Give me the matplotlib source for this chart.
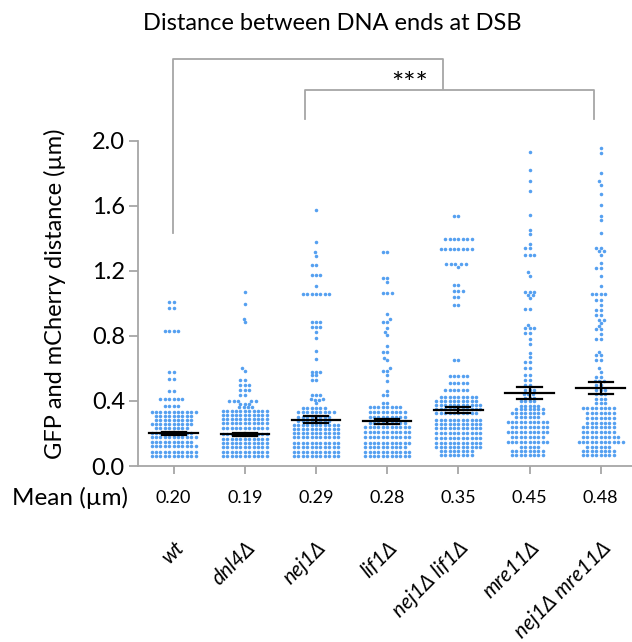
import numpy as np
import matplotlib
matplotlib.use("Agg")
import matplotlib.pyplot as plt

plt.rcParams['font.family'] = ['Lato', 'DejaVu Sans']

strains = ['wt', 'dnl4Δ', 'nej1Δ', 'lif1Δ', 'nej1Δ lif1Δ', 'mre11Δ', 'nej1Δ mre11Δ']
mean_labels = ['0.20', '0.19', '0.29', '0.28', '0.35', '0.45', '0.48']
means = [0.200, 0.195, 0.285, 0.274, 0.347, 0.450, 0.477]
sems = [0.012, 0.009, 0.022, 0.018, 0.018, 0.037, 0.037]

# (distance in um, number of cells)
wt = [(0.06, 11), (0.088, 11), (0.125, 11), (0.15, 10), (0.18, 11), (0.205, 10),
      (0.235, 8), (0.26, 10), (0.285, 9), (0.31, 9), (0.335, 11),
      (0.37, 4), (0.415, 6), (0.46, 2), (0.535, 2), (0.58, 2), (0.83, 4),
      (0.97, 2), (1.01, 2)]
dnl4 = [(0.061, 11), (0.088, 11), (0.115, 11), (0.14, 11), (0.165, 11), (0.195, 11),
        (0.233, 11), (0.262, 11), (0.287, 11), (0.313, 11), (0.34, 11), (0.36, 4),
        (0.38, 3), (0.398, 5), (0.436, 2), (0.467, 3), (0.496, 3), (0.526, 2),
        (0.585, 1), (0.60, 1), (0.885, 1), (0.905, 1), (0.995, 1), (1.07, 1)]
nej1 = [(0.061, 11), (0.088, 11), (0.119, 11), (0.143, 11), (0.176, 11), (0.20, 11),
        (0.225, 11), (0.252, 11), (0.278, 8), (0.303, 8), (0.33, 9),
        (0.355, 6), (0.385, 1), (0.405, 2), (0.413, 2), (0.434, 3), (0.526, 2),
        (0.557, 2), (0.58, 3), (0.661, 1), (0.705, 1), (0.79, 1), (0.821, 1),
        (0.852, 3), (0.885, 3), (1.057, 7), (1.106, 1), (1.173, 3), (1.235, 2),
        (1.294, 1), (1.314, 1), (1.376, 1), (1.572, 1)]
lif1 = [(0.061, 11), (0.088, 11), (0.119, 10), (0.143, 11), (0.18, 11), (0.207, 11),
        (0.241, 11), (0.266, 9), (0.30, 9), (0.333, 9), (0.36, 8),
        (0.385, 2), (0.436, 2), (0.461, 1), (0.524, 1), (0.557, 1), (0.584, 2),
        (0.60, 1), (0.651, 1), (0.663, 1), (0.704, 2), (0.741, 1), (0.805, 1),
        (0.823, 1), (0.846, 1), (0.886, 2), (0.903, 1), (0.932, 1), (1.061, 3),
        (1.132, 1), (1.153, 2), (1.316, 2)]
nej1_lif1 = [(0.067, 8), (0.092, 8), (0.119, 11), (0.143, 11), (0.174, 11), (0.20, 11),
             (0.231, 11), (0.256, 11), (0.283, 11), (0.324, 10), (0.35, 11),
             (0.375, 11), (0.40, 10), (0.426, 9),
             (0.469, 6), (0.51, 5), (0.551, 5), (0.651, 2), (0.991, 2), (1.04, 2),
             (1.075, 3), (1.114, 2), (1.225, 1), (1.24, 5), (1.335, 8), (1.393, 7),
             (1.54, 2)]
mre11 = [(0.067, 8), (0.092, 8), (0.119, 5), (0.149, 10), (0.18, 8), (0.207, 10),
         (0.241, 9), (0.272, 10), (0.30, 6), (0.324, 8), (0.348, 7), (0.372, 5),
         (0.397, 4),
         (0.42, 3), (0.44, 3), (0.47, 3), (0.50, 2), (0.526, 2), (0.557, 2),
         (0.60, 2), (0.641, 2), (0.668, 1), (0.692, 1), (0.749, 1), (0.78, 1),
         (0.815, 2), (0.846, 3), (0.866, 1), (0.964, 2), (1.03, 1), (1.05, 2),
         (1.071, 3), (1.17, 1), (1.19, 1), (1.296, 3), (1.341, 2), (1.364, 1),
         (1.425, 1), (1.454, 1), (1.544, 1), (1.689, 1), (1.753, 1), (1.818, 1),
         (1.931, 1)]
nej1_mre11 = [(0.067, 8), (0.092, 8), (0.119, 6), (0.149, 11), (0.18, 9), (0.207, 8),
              (0.241, 8), (0.266, 7), (0.293, 7), (0.324, 7), (0.354, 8), (0.389, 3),
              (0.415, 3),
              (0.44, 3), (0.47, 3), (0.50, 2), (0.52, 3), (0.55, 2), (0.58, 1),
              (0.60, 1), (0.65, 2), (0.68, 2), (0.70, 1), (0.78, 2), (0.81, 1),
              (0.84, 2), (0.86, 1), (0.88, 1), (0.90, 2), (0.93, 2), (0.96, 2),
              (0.99, 1), (1.02, 2), (1.056, 4), (1.107, 1), (1.17, 1), (1.22, 2),
              (1.25, 1), (1.30, 1), (1.32, 2), (1.34, 2), (1.435, 1), (1.51, 1),
              (1.54, 1), (1.605, 1), (1.67, 1), (1.73, 1), (1.75, 1), (1.80, 1),
              (1.927, 1), (1.955, 1)]

groups = [wt, dnl4, nej1, lif1, nej1_lif1, mre11, nej1_mre11]

dot_color = '#55a0f0'
grey = '#a6a6a6'


def swarm_offsets(vals, xscale, yscale, dx0=4.4, dy0=3.4):
    # beeswarm in pixel space with an elliptic footprint, x offsets in data units
    order = np.argsort(vals, kind='stable')
    placed = []
    offs = np.zeros(len(vals))
    for i in order:
        y = vals[i] * yscale
        near = [(px, py) for px, py in placed if abs(py - y) < dy0]
        cands = [0.0]
        for px, py in near:
            dx = dx0 * np.sqrt(1 - ((py - y) / dy0) ** 2)
            cands += [px - dx, px + dx]
        cands.sort(key=lambda c: (round(abs(c), 6), c))
        for c in cands:
            if all(((c - px) / dx0) ** 2 + ((y - py) / dy0) ** 2 >= 1 - 1e-6
                   for px, py in near):
                break
        placed.append((c, y))
        offs[i] = c / xscale
    return offs


fig = plt.figure(figsize=(6.32, 6.42), dpi=100)
ax = fig.add_axes([0.2184, 0.2741, 0.7816, 0.5067])
ax.set_xlim(-0.5, 6.44)
ax.set_ylim(0, 2.0)

bb = ax.get_window_extent()
xscale = bb.width / (6.44 + 0.5)
yscale = bb.height / 2.0

for i, g in enumerate(groups):
    vals = np.repeat([v for v, n in g], [n for v, n in g])
    offs = swarm_offsets(vals, xscale, yscale)
    ax.scatter(i + offs, vals, s=6.5, color=dot_color, linewidths=0, zorder=2,
               clip_on=False)

for i, (m, e) in enumerate(zip(means, sems)):
    ax.plot([i - 0.34, i + 0.34], [m, m], color='black', lw=1.6, zorder=3)
    ax.plot([i - 0.17, i + 0.17], [m + e, m + e], color='black', lw=1.6, zorder=3)
    ax.plot([i - 0.17, i + 0.17], [m - e, m - e], color='black', lw=1.6, zorder=3)
    ax.plot([i, i], [m - e, m + e], color='black', lw=1.6, zorder=3)

for s in ['top', 'right']:
    ax.spines[s].set_visible(False)
for s in ['left', 'bottom']:
    ax.spines[s].set_color(grey)
    ax.spines[s].set_linewidth(1.3)

ax.set_yticks(np.arange(0, 2.01, 0.4))
ax.set_yticklabels([f'{t:.1f}' for t in np.arange(0, 2.01, 0.4)], fontsize=17)
ax.set_xticks(range(len(strains)))
ax.set_xticklabels([])
ax.tick_params(axis='y', length=6.5, width=1.3, color=grey, pad=3)
ax.tick_params(axis='x', length=6, width=1.3, color=grey)

# mean row
xt = ax.get_xaxis_transform()
for i, lab in enumerate(mean_labels):
    ax.text(i, -0.098, lab, transform=xt, ha='center', va='center', fontsize=13)
fig.text(12 / 632, 1 - 498 / 642, 'Mean (µm)', ha='left', va='center', fontsize=17.5)

# strain names
for i, lab in enumerate(strains):
    ax.text(i + 0.2, -0.22, lab, transform=xt, ha='right', va='top', rotation=45,
            fontsize=15, style='italic')

fig.text(55 / 632, 1 - 294 / 642, 'GFP and mCherry distance (µm)', rotation=90,
         ha='center', va='center', fontsize=17)
fig.text(332 / 632, 1 - 23 / 642, 'Distance between DNA ends at DSB',
         ha='center', va='center', fontsize=17)

# significance brackets
ax.plot([-0.01, -0.01, 3.78, 3.78], [1.433, 2.5, 2.5, 2.32], color=grey, lw=1.3,
        clip_on=False)
ax.plot([1.84, 1.84, 5.90, 5.90], [2.136, 2.31, 2.31, 2.136], color=grey, lw=1.3,
        clip_on=False)
ax.text(3.31, 2.345, '***', ha='center', va='center', fontsize=21)

fig.savefig('out.png', dpi=100)
